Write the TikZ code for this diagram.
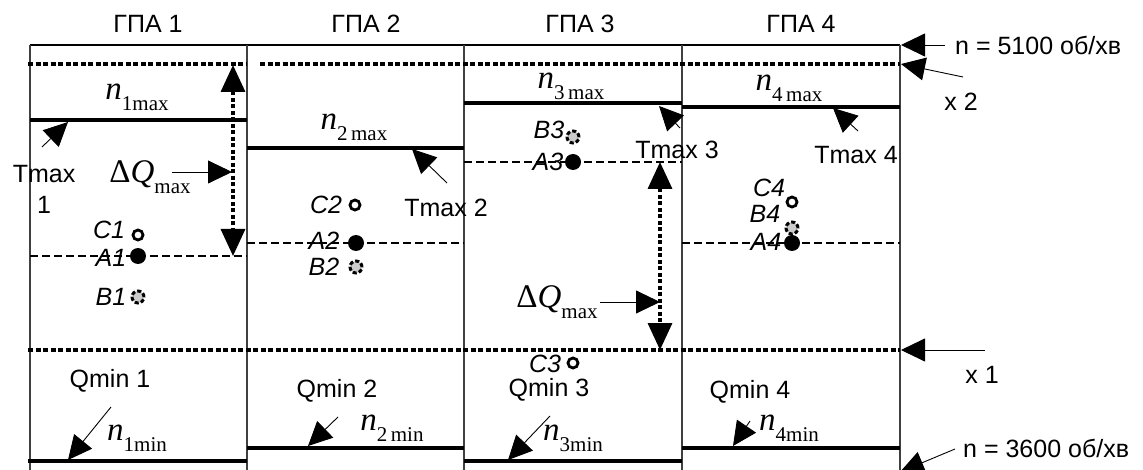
\documentclass[tikz,border=0pt]{standalone}
\usepackage{fontspec}
\setmainfont{Liberation Sans}
\newfontfamily\tms{Liberation Serif}
\usetikzlibrary{arrows.meta}
\newcommand{\mainf}{\fontsize{25}{31}\selectfont}
\newcommand{\ptf}{\fontsize{25}{28}\selectfont\itshape}
\newcommand{\nlab}[1]{{\tms\fontsize{33}{34}\selectfont\itshape n}\raisebox{-11pt}{\tms\fontsize{21}{22}\selectfont #1}}
\newcommand{\dqlab}{{\tms\fontsize{33}{34}\selectfont Δ\itshape Q}\raisebox{-11pt}{\tms\fontsize{21}{22}\selectfont max}}
\begin{document}
\begin{tikzpicture}[x=1pt,y=-1pt,
  frame/.style={line width=1.2pt, draw=black!75},
  topline/.style={line width=1.1pt},
  nline/.style={line width=3.8pt},
  xdots/.style={line width=3.4pt, dash pattern=on 5pt off 2.5pt},
  alevel/.style={line width=1.2pt, dash pattern=on 8pt off 4pt},
  arr/.style={line width=0.9pt, -{Triangle[length=24pt,width=23pt]}},
  darr/.style={line width=3.4pt, dash pattern=on 4pt off 2.5pt, {Triangle[length=27pt,width=24pt]}-{Triangle[length=27pt,width=24pt]}},
  lbl/.style={font=\mainf, inner sep=0pt},
  plbl/.style={font=\ptf, inner sep=0pt},
  mlbl/.style={inner sep=0pt},
  ptA/.style={circle, fill=black, minimum size=16pt, inner sep=0pt},
  ptC/.style={circle, draw=black, fill=white, line width=2.8pt, minimum size=10pt, inner sep=0pt},
  ptB/.style={circle, draw=black, fill=black!20, line width=3pt, dash pattern=on 4pt off 2.2pt, minimum size=12pt, inner sep=0pt}
]
\useasboundingbox (0,0) rectangle (1143,470);
\fill[white] (0,0) rectangle (1143,470);

% frame
\draw[topline] (30,45) -- (900,45);
\foreach \x in {30,247,464,682,900} \draw[frame] (\x,45) -- (\x,472);

% x2 and x1 levels
\draw[xdots] (28,64) -- (247,64);
\draw[xdots] (260,64) -- (900,64);
\draw[xdots] (28,350) -- (900,350);

% n max lines
\draw[nline] (30,120) -- (247,120);
\draw[nline] (247,148) -- (464,148);
\draw[nline] (464,103) -- (682,103);
\draw[nline] (682,107) -- (900,107);
% n min lines
\draw[nline] (28,461) -- (247,461);
\draw[nline] (247,448) -- (464,448);
\draw[nline] (464,461) -- (682,461);
\draw[nline] (682,448) -- (900,448);

% A levels
\draw[alevel] (30,256) -- (247,256);
\draw[alevel] (247,243) -- (464,243);
\draw[alevel] (464,162) -- (682,162);
\draw[alevel] (682,243) -- (900,243);

% headers
\node[lbl] (h1) at (148,24) {ГПА 1};
\node[lbl] (h2) at (366,24) {ГПА 2};
\node[lbl] (h3) at (580,24) {ГПА 3};
\node[lbl] (h4) at (801,24) {ГПА 4};

% right-side labels
\node[lbl, anchor=west] (n5100) at (955,45) {n = 5100 об/хв};
\node[lbl] (x2) at (961,102) {x 2};
\node[lbl] (x1) at (982,375) {x 1};
\node[lbl, anchor=west] (n3600) at (963,448) {n = 3600 об/хв};
\coordinate (n5100t) at (945,45);  \coordinate (n5100h) at (901,45);
\coordinate (x2t) at (963,77);     \coordinate (x2h) at (901,64);
\coordinate (x1t) at (985,350);    \coordinate (x1h) at (901,350);
\coordinate (n3600t) at (955,449); \coordinate (n3600h) at (900,472);
\draw[arr] (n5100t) -- (n5100h);
\draw[arr] (x2t) -- (x2h);
\draw[arr] (x1t) -- (x1h);
\draw[arr] (n3600t) -- (n3600h);

% n max labels
\node[mlbl] (n1max) at (137,97) {\nlab{1max}};
\node[mlbl] (n2max) at (354,127) {\nlab{2\,max}};
\node[mlbl] (n3max) at (571,86) {\nlab{3\,max}};
\node[mlbl] (n4max) at (789,88) {\nlab{4\,max}};

% Tmax labels and arrows
\node[lbl, align=center] (T1) at (44,189) {Tmax\\1};
\node[lbl] (T2) at (446,208) {Tmax 2};
\node[lbl] (T3) at (677,150) {Tmax 3};
\node[lbl] (T4) at (856,155) {Tmax 4};
\coordinate (T1t) at (42,147);  \coordinate (T1h) at (68,122);
\coordinate (T2t) at (447,183); \coordinate (T2h) at (412,149);
\coordinate (T3t) at (680,128); \coordinate (T3h) at (659,106);
\coordinate (T4t) at (858,131); \coordinate (T4h) at (833,108);
\draw[arr] (T1t) -- (T1h);
\draw[arr] (T2t) -- (T2h);
\draw[arr] (T3t) -- (T3h);
\draw[arr] (T4t) -- (T4h);

% Delta Q max
\node[mlbl] (dq1) at (150,177) {\dqlab};
\coordinate (dq1t) at (172,172); \coordinate (dq1h) at (232,172);
\draw[arr] (dq1t) -- (dq1h);
\coordinate (v1a) at (233,65); \coordinate (v1b) at (233,256);
\draw[darr] (v1a) -- (v1b);

\node[mlbl] (dq3) at (557,302) {\dqlab};
\coordinate (dq3t) at (600,302); \coordinate (dq3h) at (660,302);
\draw[arr] (dq3t) -- (dq3h);
\coordinate (v3a) at (660,162); \coordinate (v3b) at (660,350);
\draw[darr] (v3a) -- (v3b);

% points
\node[ptC] (C1) at (138,235) {};
\node[ptA] (A1) at (138,256) {};
\node[ptB] (B1) at (138,297) {};
\node[ptC] (C2) at (355,205) {};
\node[ptA] (A2) at (356,243) {};
\node[ptB] (B2) at (356,267) {};
\node[ptB] (B3) at (573,137) {};
\node[ptA] (A3) at (573,162) {};
\node[ptC] (C3) at (573,363) {};
\node[ptC] (C4) at (792,202) {};
\node[ptB] (B4) at (792,228) {};
\node[ptA] (A4) at (792,243) {};

\node[plbl] (lC1) at (109,230) {C1};
\node[plbl] (lA1) at (111,258) {A1};
\node[plbl] (lB1) at (111,297) {B1};
\node[plbl] (lC2) at (326,205) {C2};
\node[plbl] (lA2) at (324,241) {A2};
\node[plbl] (lB2) at (324,267) {B2};
\node[plbl] (lB3) at (549,130) {B3};
\node[plbl] (lA3) at (548,162) {A3};
\node[plbl] (lC3) at (545,364) {C3};
\node[plbl] (lC4) at (769,188) {C4};
\node[plbl] (lB4) at (765,214) {B4};
\node[plbl] (lA4) at (766,242) {A4};

% Qmin labels
\node[lbl] (Q1) at (110,381) {Qmin 1};
\node[lbl] (Q2) at (337,391) {Qmin 2};
\node[lbl] (Q3) at (549,390) {Qmin 3};
\node[lbl] (Q4) at (750,392) {Qmin 4};

% n min labels and arrows
\node[mlbl] (n1min) at (137,438) {\nlab{1min}};
\node[mlbl] (n2min) at (392,428) {\nlab{2\,min}};
\node[mlbl] (n3min) at (573,438) {\nlab{3min}};
\node[mlbl] (n4min) at (789,428) {\nlab{4min}};
\coordinate (m1t) at (111,407); \coordinate (m1h) at (68,460);
\coordinate (m2t) at (338,417); \coordinate (m2h) at (308,446);
\coordinate (m3t) at (550,416); \coordinate (m3h) at (508,460);
\coordinate (m4t) at (750,421); \coordinate (m4h) at (733,446);
\draw[arr] (m1t) -- (m1h);
\draw[arr] (m2t) -- (m2h);
\draw[arr] (m3t) -- (m3h);
\draw[arr] (m4t) -- (m4h);
\end{tikzpicture}
\end{document}
